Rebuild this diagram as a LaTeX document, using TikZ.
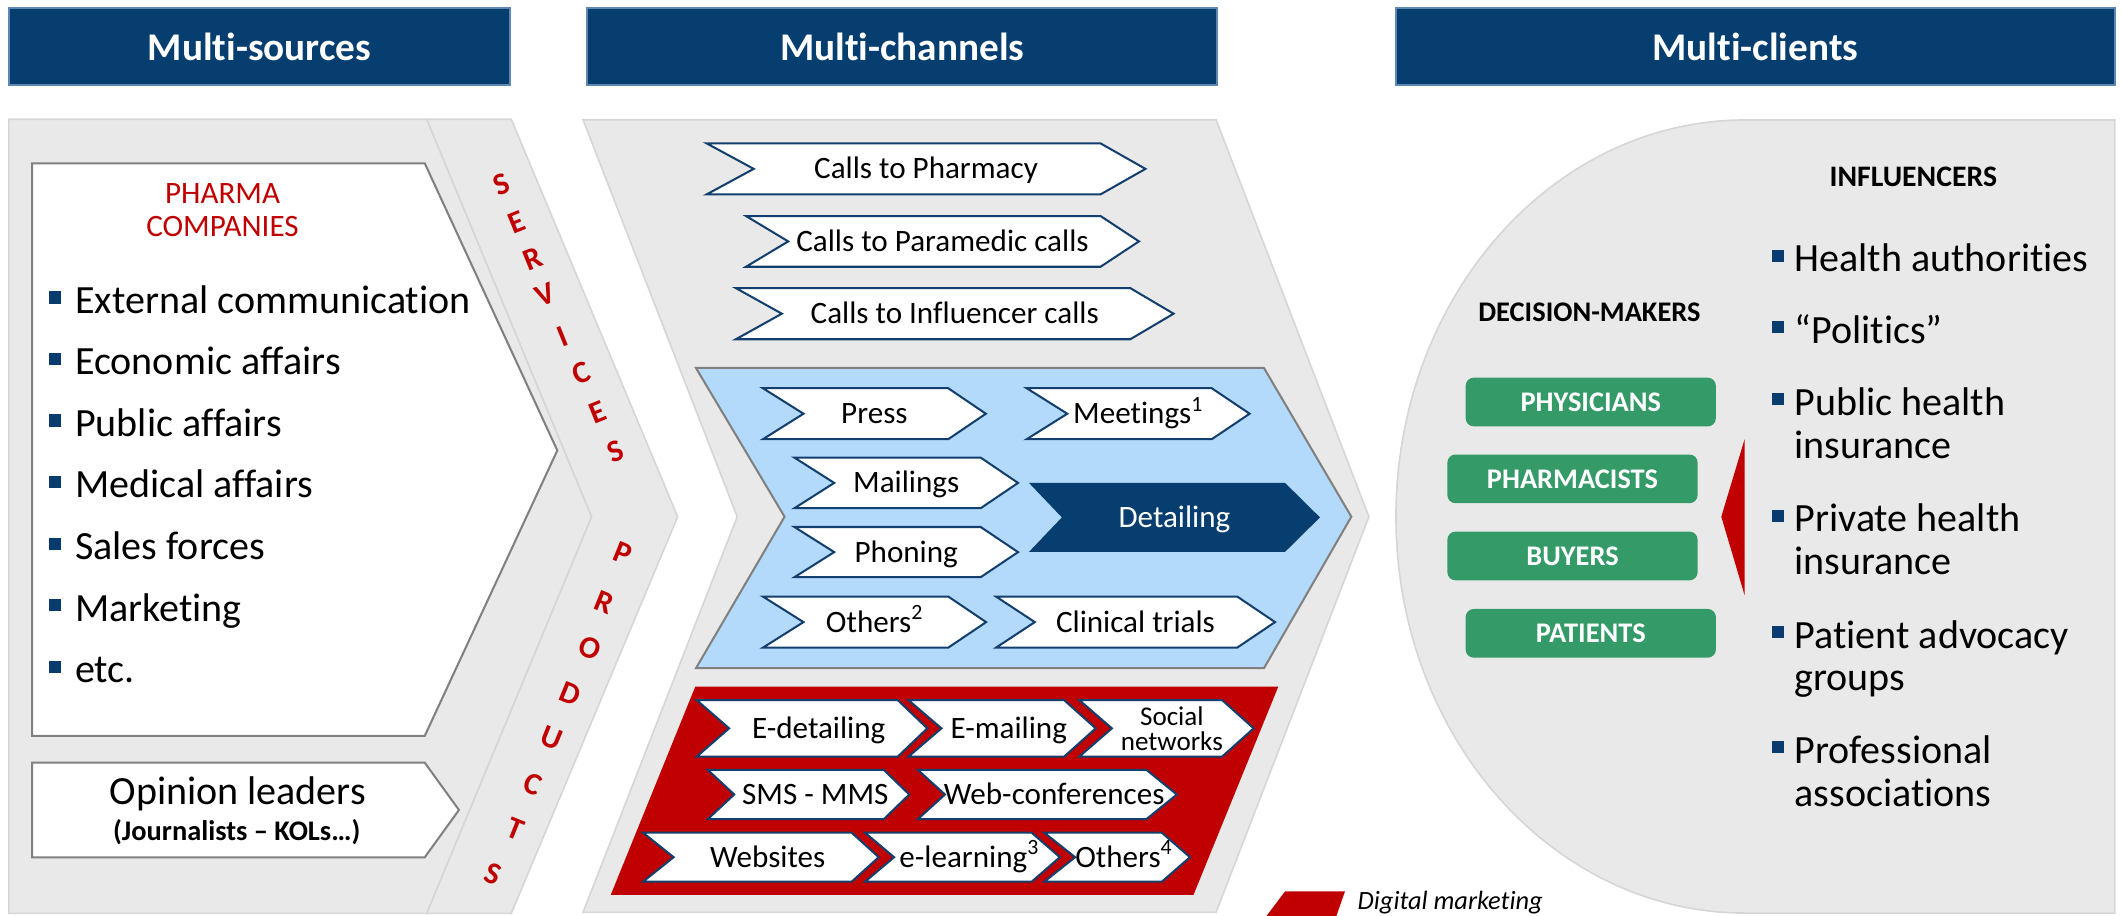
\documentclass[tikz,border=0pt]{standalone}
\usepackage{fontspec}
\setmainfont{Carlito}[Ligatures={TeX,NoCommon}]
\usetikzlibrary{calc}
\definecolor{hdrblue}{RGB}{6,62,112}
\definecolor{hdredge}{RGB}{95,135,180}
\definecolor{panelgray}{RGB}{233,233,233}
\definecolor{panelline}{RGB}{214,214,214}
\definecolor{ltblue}{RGB}{179,218,250}
\definecolor{boxgray}{RGB}{128,128,128}
\definecolor{dred}{RGB}{192,0,0}
\definecolor{chevline}{RGB}{18,63,110}
\definecolor{grn}{RGB}{52,154,104}
\definecolor{bulblue}{RGB}{8,60,110}
\newcommand{\chev}[9]{%
  \path[#1] (#3,#5) -- ({#4-#8},#5) -- (#4,{(#5+#6)/2}) -- ({#4-#8},#6) -- (#3,#6) -- ({#3+#7},{(#5+#6)/2}) -- cycle;
  \node[#1 txt] (#2) at ({(#3+#4)/2},{(#5+#6)/2}) {#9};}
\tikzset{
  panel/.style={fill=panelgray, draw=panelline, line width=1.2pt, line join=miter},
  hdr/.style={fill=hdrblue, draw=hdredge, line width=1.5pt, text=white, font=\bfseries\fontsize{29}{30}\selectfont, inner sep=0pt},
  wbox/.style={fill=white, draw=boxgray, line width=1.5pt, line join=miter},
  bluep/.style={fill=ltblue, draw=boxgray, line width=1.5pt, line join=miter},
  chevB/.style={fill=white, draw=chevline, line width=1.5pt, line join=miter},
  chevB txt/.style={font=\fontsize{23}{24}\selectfont, text height=14.7pt, text depth=0pt, inner sep=0pt},
  chevD/.style={chevB},
  chevD txt/.style={chevB txt, xshift=5pt},
  chevD2/.style={chevB},
  chevD2 txt/.style={font=\fontsize{20}{18.5}\selectfont, align=center, inner sep=0pt, xshift=4pt},
  chevK/.style={fill=hdrblue},
  chevK txt/.style={chevB txt, text=white},
  item/.style={font=\fontsize{29.6}{32}\selectfont, inner sep=0pt, anchor=base west},
  bul/.style={fill=bulblue, minimum width=8.5pt, minimum height=9pt, inner sep=0pt},
  redtxt/.style={text=dred, font=\fontsize{23}{24}\selectfont, inner sep=0pt, anchor=base},
  letS/.style={text=dred, font=\bfseries\fontsize{23}{24}\selectfont, inner sep=0pt, rotate=22},
  letP/.style={text=dred, font=\bfseries\fontsize{23}{24}\selectfont, inner sep=0pt, rotate=-22},
  gbox/.style={fill=grn, rounded corners=6pt, minimum width=185pt, minimum height=36pt, inner sep=0pt, text=white, font=\bfseries\fontsize{21}{22}\selectfont},
  head/.style={font=\bfseries\fontsize{21}{22}\selectfont, inner sep=0pt},
}
\begin{document}
\begin{tikzpicture}[x=1pt,y=-1pt]
\useasboundingbox (0,0) rectangle (1568,677);
% panels
\draw[panel] (6.6,88.2) -- (315.5,88.2) -- (437.4,382) -- (315.5,675.2) -- (6.6,675.2) -- cycle;
\draw[panel] (315.5,88.2) -- (378,88.2) -- (501,382) -- (378,675.2) -- (315.5,675.2) -- (437.4,382) -- cycle;
\draw[panel] (431,88.5) -- (899,88.5) -- (1012,382) -- (899,674.5) -- (431,674.5) -- (545,382) -- cycle;
\draw[panel] (1563.4,88.7) -- (1290,88.7) .. controls (1147.5,88.7) and (1032,220) .. (1032,382) .. controls (1032,544) and (1147.5,675) .. (1290,675) -- (1563.4,675) -- cycle;
% headers
\node[hdr, minimum width=370pt, minimum height=57pt] (h1) at (191.8,34.5) {Multi-sources};
\node[hdr, minimum width=466pt, minimum height=57pt] (h2) at (667,34.5) {Multi-channels};
\node[hdr, minimum width=531pt, minimum height=57pt] (h3) at (1297.7,34.5) {Multi-clients};
% multi-sources
\draw[wbox] (23.8,120.7) -- (314,120.7) -- (412,333) -- (314,544) -- (23.8,544) -- cycle;
\node[redtxt] (pharma1) at (164.5,150.8) {PHARMA};
\node[redtxt] (pharma2) at (164.5,174.5) {COMPANIES};
\foreach \t [count=\i] in {External communication, Economic affairs, Public affairs, Medical affairs, Sales forces, Marketing, etc.} {
  \node[bul] (lb\i) at (40.8,{231.6+45.5*(\i-1)-11.7}) {};
  \node[item] (li\i) at (55.4,{231.6+45.5*(\i-1)}) {\t};
}
\draw[wbox] (23.8,563.8) -- (314,563.8) -- (339.3,598.8) -- (314,633.8) -- (23.8,633.8) -- cycle;
\node[item, anchor=base] (op1) at (175.7,595) {Opinion leaders};
\node[inner sep=0pt, anchor=base, font=\bfseries\fontsize{21}{22}\selectfont] (op2) at (175,621) {(Journalists – KOLs…)};
% services / products
\node[letS] (s1) at (370.9,136.3) {S};
\node[letS] (s2) at (382,164.4) {E};
\node[letS] (s3) at (394,191.5) {R};
\node[letS] (s4) at (403,218) {V};
\node[letS] (s5) at (416,249) {I};
\node[letS] (s6) at (430,276) {C};
\node[letS] (s7) at (442,305) {E};
\node[letS] (s8) at (454.7,333.9) {S};
\node[letP] (p1) at (460.6,408.9) {P};
\node[letP] (p2) at (447,445.5) {R};
\node[letP] (p3) at (436,479) {O};
\node[letP] (p4) at (421.4,512.8) {D};
\node[letP] (p5) at (407.8,545.6) {U};
\node[letP] (p6) at (394,580) {C};
\node[letP] (p7) at (380.7,613) {T};
\node[letP] (p8) at (364.7,645.7) {S};
% multi-channels: calls
\chev{chevB}{cph}{522.4}{846.8}{106}{143.7}{34.8}{33.2}{Calls to Pharmacy}
\chev{chevB}{cpa}{551.5}{842}{159.7}{197.2}{31.2}{28.4}{Calls to Paramedic calls}
\chev{chevB}{cin}{544}{867.6}{213}{250.8}{34}{32}{Calls to Influencer calls}
% blue panel
\draw[bluep] (514.5,272) -- (934.4,272) -- (999,382) -- (934.4,494) -- (514.5,494) -- (580,382) -- cycle;
\chev{chevB}{press}{564}{728.8}{287}{324.7}{30}{27.8}{Press}
\chev{chevB}{meet}{759}{923.8}{287}{324.7}{30}{28}{Meetings\textsuperscript{1}}
\chev{chevB}{mail}{587.3}{752.6}{338.3}{375.7}{29.4}{27.6}{Mailings}
\chev{chevB}{phon}{587.3}{752.6}{389.6}{426.7}{29.4}{27.6}{Phoning}
\chev{chevB}{oth2}{564}{729}{441}{478.8}{30}{28}{Others\textsuperscript{2}}
\chev{chevB}{clin}{736.3}{942.6}{441}{478.8}{28.7}{28}{Clinical trials}
\chev{chevK}{detail}{760.7}{975.8}{357}{408}{24.3}{25.8}{Detailing}
% digital panel
\fill[dred] (514,507.6) -- (945,507.6) -- (882.3,661.6) -- (451.5,661.6) -- cycle;
\chev{chevD}{edet}{515}{685.5}{517.5}{559.4}{24}{21.9}{E-detailing}
\chev{chevD}{email}{671.5}{810}{517.5}{559.4}{24.5}{23.4}{E-mailing}
\chev{chevD2}{soc}{797.8}{926.8}{517.5}{559.4}{24.2}{23.4}{Social\\networks}
\chev{chevD}{sms}{523.3}{672.2}{569.2}{605.5}{19.5}{18.8}{SMS - MMS}
\chev{chevD}{webc}{678.6}{870}{569.2}{605.5}{20}{22.4}{Web-conferences}
\chev{chevD}{webs}{475.4}{649.6}{615.6}{651.8}{22.6}{20}{Websites}
\chev{chevD}{elea}{639.5}{783.5}{615.6}{651.8}{21.5}{20.8}{e-learning\textsuperscript{3}}
\chev{chevD}{oth4}{772}{879.7}{615.6}{651.8}{22.8}{20.8}{Others\textsuperscript{4}}
% legend
\fill[dred] (950,659) -- (994.3,659) -- (988,677) -- (936.4,677) -- cycle;
\node[inner sep=0pt, anchor=base west, font=\itshape\fontsize{19.5}{20}\selectfont] (leg) at (1003.5,672.7) {Digital marketing};
% multi-clients
\node[head] (dm) at (1175,231) {DECISION-MAKERS};
\node[head, font=\bfseries\fontsize{22}{23}\selectfont] (inf) at (1414.5,131) {INFLUENCERS};
\node[gbox] (phys) at (1176,297.2) {PHYSICIANS};
\node[gbox] (phar) at (1162.5,354) {PHARMACISTS};
\node[gbox] (buy) at (1162.5,411) {BUYERS};
\node[gbox] (pat) at (1176,468.2) {PATIENTS};
\fill[dred] (1289.7,324.8) -- (1272.5,382) -- (1289.7,440) -- cycle;
\node[bul] (rb1) at (1314.4,189) {};
\node[item] (ri1) at (1326.5,200.8) {Health authorities};
\node[bul] (rb2) at (1314.4,242) {};
\node[item] (ri2) at (1326.5,253.8) {“Politics”};
\node[bul] (rb3) at (1314.4,295) {};
\node[item] (ri3) at (1326.5,306.8) {Public health};
\node[item] (ri3b) at (1326.5,338.8) {insurance};
\node[bul] (rb4) at (1314.4,381.2) {};
\node[item] (ri4) at (1326.5,393) {Private health};
\node[item] (ri4b) at (1326.5,425) {insurance};
\node[bul] (rb5) at (1314.4,467.5) {};
\node[item] (ri5) at (1326.5,479.3) {Patient advocacy};
\node[item] (ri5b) at (1326.5,510.5) {groups};
\node[bul] (rb6) at (1314.4,552.5) {};
\node[item] (ri6) at (1326.5,564.3) {Professional};
\node[item] (ri6b) at (1326.5,596.3) {associations};
\end{tikzpicture}
\end{document}
